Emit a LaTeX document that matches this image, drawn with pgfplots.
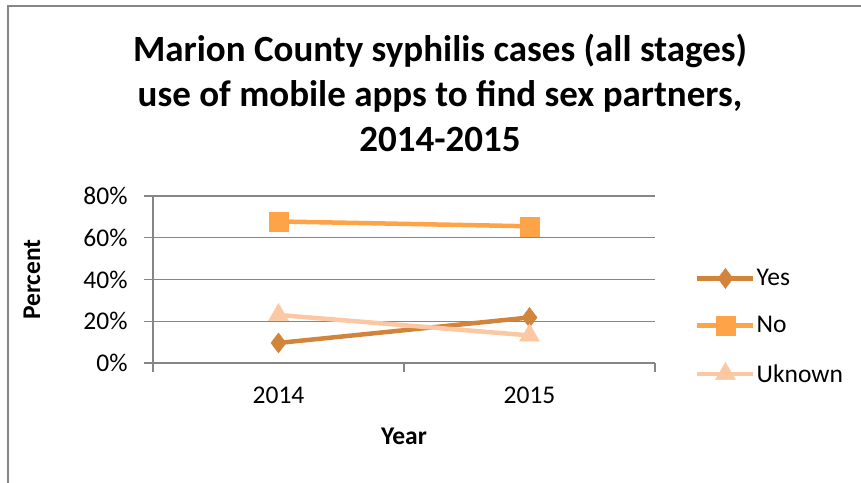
\documentclass[border=0pt]{standalone}
\usepackage{fontspec}
\setmainfont{Carlito}
\usepackage{pgfplots}
\pgfplotsset{compat=1.18}
\definecolor{yescol}{HTML}{D2843B}
\definecolor{nocol}{HTML}{FFA348}
\definecolor{unkcol}{HTML}{FCC8A3}
\definecolor{axgray}{HTML}{868686}
\newcommand{\lbl}{\fontsize{25.5bp}{30bp}\selectfont}
\newcommand{\ttl}{\fontsize{37bp}{45bp}\selectfont\bfseries}
\begin{document}
\begin{tikzpicture}[x=1bp,y=1bp]
\path[use as bounding box] (0,0) rectangle (861,483);
\draw[axgray, line width=1.4bp] (8,0) -- (8,477) -- (861,477);
\node[anchor=base, font=\ttl] at (440,421) {Marion County syphilis cases (all stages)};
\node[anchor=base, font=\ttl] at (440,376) {use of mobile apps to find sex partners,};
\node[anchor=base, font=\ttl] at (440,331) {2014-2015};
\begin{axis}[
  at={(153bp,120bp)}, anchor=south west,
  scale only axis, width=502bp, height=167bp,
  xmin=-0.5, xmax=1.5, ymin=0, ymax=80,
  axis x line=bottom, axis y line=left,
  axis line style={-, draw=axgray, line width=1.4bp},
  xtick={-0.5,0.5,1.5}, xticklabels={2014,2015},
  x tick label as interval,
  ytick={0,20,40,60,80}, yticklabels={0\%,20\%,40\%,60\%,80\%},
  tick align=outside, major tick length=9bp,
  tick style={draw=axgray, line width=1.4bp},
  ymajorgrids, grid style={draw=axgray, line width=1.4bp},
  tick label style={font=\lbl},
  yticklabel style={xshift=-13bp},
  xticklabel style={yshift=-11bp},
  xlabel={Year}, ylabel={Percent},
  every axis x label/.style={at={(axis description cs:0.5,-0.491)}, anchor=base, font=\lbl\bfseries},
  every axis y label/.style={at={(axis description cs:-0.241,0.5)}, anchor=center, rotate=90, font=\lbl\bfseries},
  clip=false,
  legend style={at={(axis description cs:1.0797,0.2216)}, anchor=west, draw=none, fill=none,
    inner sep=0pt, font=\lbl, row sep=27.5bp,
    nodes={inner sep=0pt},
    /tikz/every odd column/.append style={column sep=1bp}},
  legend cell align=left,
  legend image code/.code={\draw[mark repeat=2,mark phase=2,#1] plot coordinates {(0bp,0bp) (28bp,0bp) (56bp,0bp)};},
]
\addplot[color=yescol, line width=4.5bp, mark=diamond*, mark size=10bp, mark options={solid, line width=0.5bp}]
  coordinates {(0,9.6) (1,21.8)};
\addplot[color=nocol, line width=4.5bp, mark=square*, mark size=9.5bp, mark options={solid, line width=0.5bp}]
  coordinates {(0,67.8) (1,65.5)};
\addplot[color=unkcol, line width=4.5bp, mark=triangle*, mark size=11.5bp, mark options={solid, line width=0.5bp}]
  coordinates {(0,23.0) (1,13.2)};
\legend{Yes,No,Uknown}
\end{axis}
\end{tikzpicture}
\end{document}
